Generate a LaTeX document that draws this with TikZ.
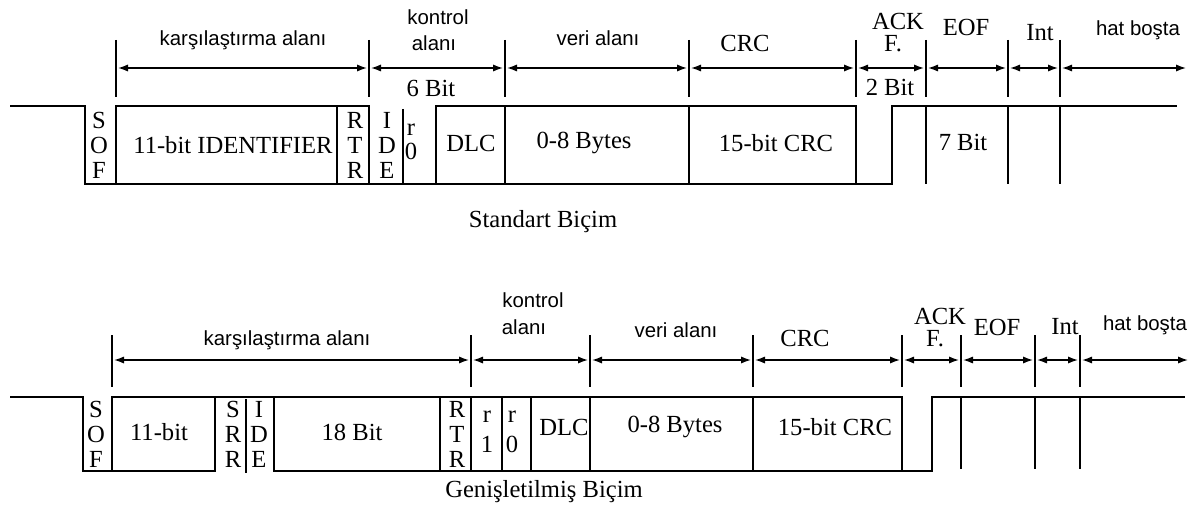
\documentclass[tikz,border=0pt]{standalone}
\usepackage{fontspec}
\setmainfont{Liberation Serif}
\setsansfont{Liberation Sans}
\usetikzlibrary{arrows.meta}

\tikzset{
  sig/.style={line width=0.9pt},
  ext/.style={line width=0.8pt},
  dimarrow/.style={{Latex[length=5pt,width=3.6pt]}-{Latex[length=5pt,width=3.6pt]},
    line width=0.7pt,shorten <=1pt,shorten >=1pt},
  lbl/.style={inner sep=0pt,font=\fontsize{12.3}{12.5}\selectfont},
  sanslbl/.style={inner sep=0pt,font=\fontsize{10.2}{12}\sffamily},
  vtext/.style={lbl,align=center},
}

\begin{document}
\begin{tikzpicture}[x=0.5pt,y=-0.5pt]
  \useasboundingbox (0,0) rectangle (1193,508);

  % Standart Bicim: field marks and arrows
  \foreach \x/\n in {116/a0,369/a1,505/a2,689/a3,856/a4,926/a5,1008/a6,1060/a7} {
    \draw[ext] (\x,40) -- (\x,97);
    \coordinate (\n) at (\x,68);
  }
  \coordinate (aend) at (1188,68);
  \foreach \p/\q in {a0/a1,a1/a2,a2/a3,a3/a4,a4/a5,a5/a6,a6/a7,a7/aend}
    \draw[dimarrow] (\p) -- (\q);

  % Standart Bicim: signal
  \draw[sig] (10,106) -- (85,106) -- (85,184) -- (892,184) -- (892,106) -- (1177,106);
  \draw[sig] (116,184) -- (116,106) -- (369,106) -- (369,184);
  \draw[sig] (436,184) -- (436,106) -- (856,106) -- (856,184);
  \foreach \x in {337,505,689,926,1008,1060}
    \draw[sig] (\x,106) -- (\x,184);
  \draw[sig] (403,109) -- (403,184);

  \node[sanslbl] (cmp1) at (243,40) {karşılaştırma alanı};
  \node[sanslbl] (ctl1a) at (438,17) {kontrol};
  \node[sanslbl] (ctl1b) at (434,43) {alanı};
  \node[lbl] (bit6) at (431,88) {6 Bit};
  \node[sanslbl] (dat1) at (598,38) {veri alanı};
  \node[lbl] (crc1) at (745,43) {CRC};
  \node[lbl] (ack1) at (898,21) {ACK};
  \node[lbl] (ackf1) at (893,44) {F.};
  \node[lbl] (bit2) at (890,87) {2 Bit};
  \node[lbl] (eof1) at (966,27) {EOF};
  \node[lbl] (int1) at (1040,33) {Int};
  \node[sanslbl] (idle1) at (1138,30) {hat boşta};

  \node[vtext] (sof1) at (99,145) {S\\O\\F};
  \node[lbl] (id1) at (233,145) {11-bit IDENTIFIER};
  \node[vtext] (rtr1) at (355,145) {R\\T\\R};
  \node[vtext] (ide1) at (387,145) {I\\D\\E};
  \node[vtext,font=\fontsize{12.3}{12}\selectfont] (r0a) at (411,142) {r\\0};
  \node[lbl] (dlc1) at (471,143) {DLC};
  \node[lbl] (byt1) at (584,143) {0-8 Bytes};
  \node[lbl] (crcf1) at (776,143) {15-bit CRC};
  \node[lbl] (bit7) at (963,142) {7 Bit};
  \node[lbl] (std) at (543,222) {Standart Biçim};

  % Genisletilmis Bicim: field marks and arrows
  \foreach \x/\n in {112/b0,471/b1,590/b2,753/b3,902/b4,961/b5,1035/b6,1080/b7} {
    \draw[ext] (\x,335) -- (\x,387);
    \coordinate (\n) at (\x,360);
  }
  \coordinate (bend) at (1190,360);
  \foreach \p/\q in {b0/b1,b1/b2,b2/b3,b3/b4,b4/b5,b5/b6,b6/b7,b7/bend}
    \draw[dimarrow] (\p) -- (\q);

  % Genisletilmis Bicim: signal
  \draw[sig] (10,397) -- (83,397) -- (83,471) -- (215,471) -- (215,397);
  \draw[sig] (112,471) -- (112,397) -- (902,397) -- (902,471);
  \draw[sig] (274,397) -- (274,471) -- (932,471) -- (932,397) -- (1185,397);
  \draw[sig] (246,399) -- (246,473);
  \foreach \x in {440,471,502,531,590,753}
    \draw[sig] (\x,397) -- (\x,471);
  \foreach \x in {961,1035,1080}
    \draw[sig] (\x,397) -- (\x,469);

  \node[sanslbl] (cmp2) at (287,340) {karşılaştırma alanı};
  \node[sanslbl] (ctl2a) at (533,300) {kontrol};
  \node[sanslbl] (ctl2b) at (524,327) {alanı};
  \node[sanslbl] (dat2) at (676,330) {veri alanı};
  \node[lbl] (crc2) at (805,338) {CRC};
  \node[lbl] (ack2) at (940,316) {ACK};
  \node[lbl] (ackf2) at (935,339) {F.};
  \node[lbl] (eof2) at (997,327) {EOF};
  \node[lbl] (int2) at (1065,327) {Int};
  \node[sanslbl] (idle2) at (1145,325) {hat boşta};

  \node[vtext] (sof2) at (96,434) {S\\O\\F};
  \node[lbl] (id2) at (159,432) {11-bit};
  \node[vtext] (srr2) at (233,434) {S\\R\\R};
  \node[vtext] (ide2) at (259,434) {I\\D\\E};
  \node[lbl] (ext2) at (352,432) {18 Bit};
  \node[vtext] (rtr2) at (457,434) {R\\T\\R};
  \node[vtext,font=\fontsize{12.3}{15}\selectfont] (r1b) at (487,432) {r\\1};
  \node[vtext,font=\fontsize{12.3}{15}\selectfont] (r0b) at (512,432) {r\\0};
  \node[lbl] (dlc2) at (564,427) {DLC};
  \node[lbl] (byt2) at (675,427) {0-8 Bytes};
  \node[lbl] (crcf2) at (835,427) {15-bit CRC};
  \node[lbl] (gen) at (544,492) {Genişletilmiş Biçim};
\end{tikzpicture}
\end{document}
